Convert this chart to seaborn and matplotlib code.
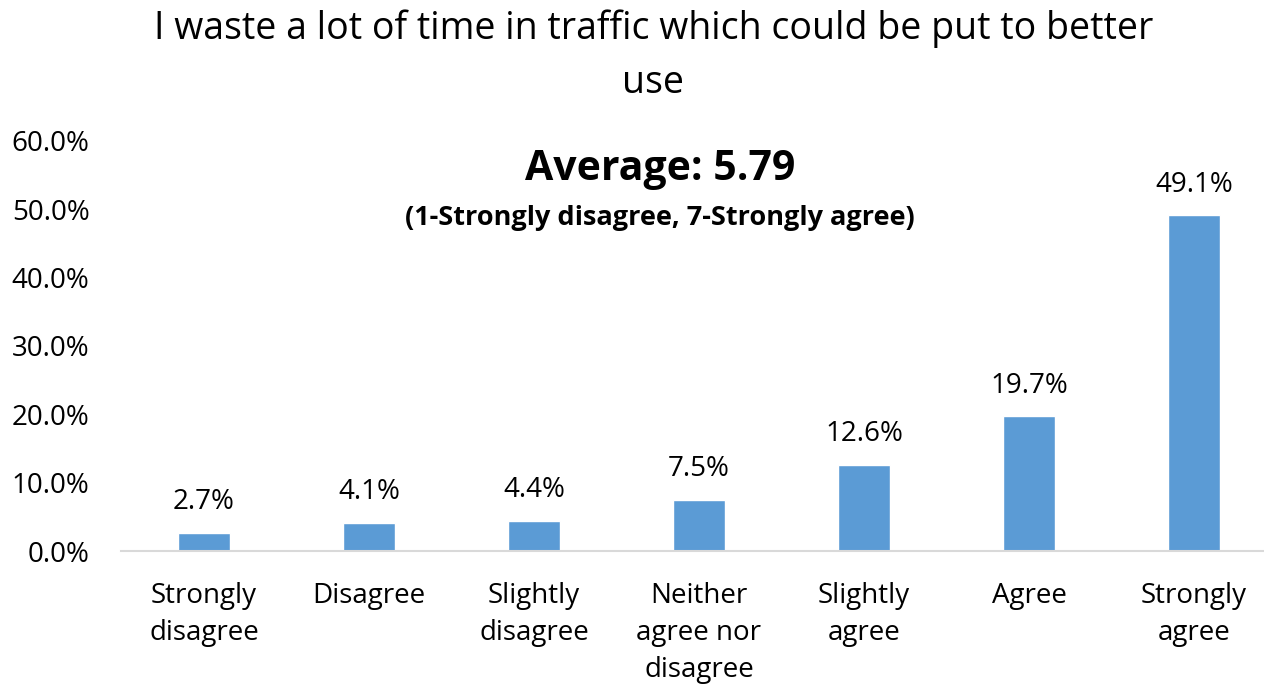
import matplotlib
matplotlib.use("Agg")
import matplotlib.pyplot as plt
import pandas as pd
import seaborn as sns
from matplotlib.ticker import PercentFormatter

# 数据
categories = ["Strongly\ndisagree", "Disagree", "Slightly\ndisagree",
              "Neither\nagree nor\ndisagree", "Slightly\nagree", "Agree",
              "Strongly\nagree"]
shares = [2.7, 4.1, 4.4, 7.5, 12.6, 19.7, 49.1]
title = "I waste a lot of time in traffic which could be put to better\nuse"
average_text = "Average: 5.79"
scale_text = "(1-Strongly disagree, 7-Strongly agree)"

data = pd.DataFrame({"category": categories, "share": shares})

sns.set_style("white")
plt.rcParams['font.family'] = ['Open Sans', 'DejaVu Sans']
plt.rcParams['text.color'] = 'black'
plt.rcParams['xtick.color'] = 'black'
plt.rcParams['ytick.color'] = 'black'

fig = plt.figure(figsize=(12.64, 6.85), dpi=100)
ax = fig.add_axes([0.0961, 0.1956, 0.9138, 0.5986])

sns.barplot(data=data, x="category", y="share", color="#5B9BD5",
            width=0.31, saturation=1, ax=ax)

# 数值标签
for i, v in enumerate(shares):
    ax.annotate(f"{v:.1f}%", (i, v), xytext=(0, 22), textcoords="offset points",
                ha="center", va="center", fontsize=20, color="black")

ax.set_ylim(0, 60)
ax.set_xlim(-0.5, len(categories) - 0.5)
ax.set_yticks(range(0, 61, 10))
ax.yaxis.set_major_formatter(PercentFormatter(decimals=1))
ax.tick_params(axis="y", labelsize=20, length=0, pad=23)
ax.tick_params(axis="x", labelsize=20, length=0, pad=22.5)
for lbl in ax.get_xticklabels():
    lbl.set_linespacing(1.43)
ax.set_xlabel("")
ax.set_ylabel("")
for s in ["top", "right", "left"]:
    ax.spines[s].set_visible(False)
ax.spines["bottom"].set_color("#D9D9D9")
ax.spines["bottom"].set_linewidth(1.5)

fig.text(0.517, 0.918, title, ha="center", va="center", fontsize=27, linespacing=1.55)
fig.text(0.522, 0.752, average_text, ha="center", va="center", fontsize=29.5, fontweight="bold")
fig.text(0.522, 0.682, scale_text, ha="center", va="center", fontsize=19.5, fontweight="bold")

plt.savefig("out.png", dpi=100)
